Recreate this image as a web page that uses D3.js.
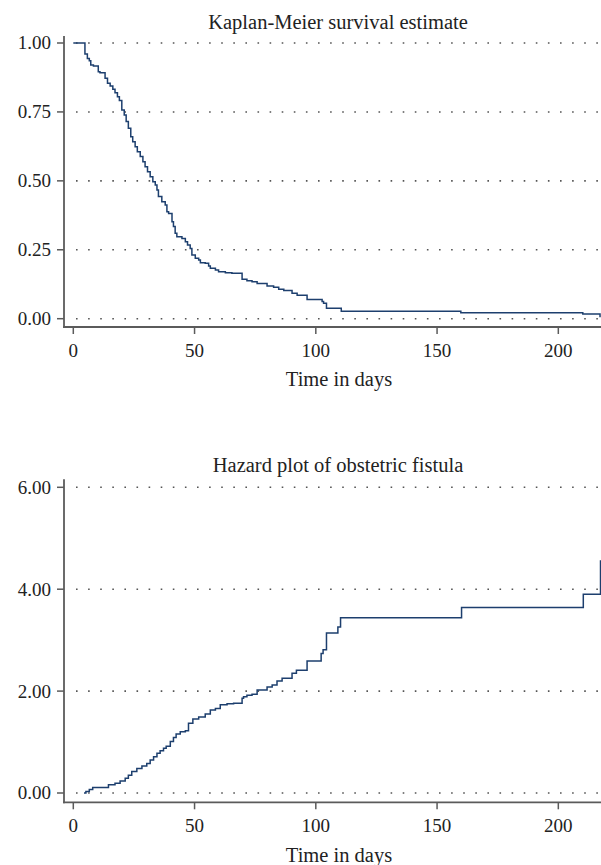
<!DOCTYPE html>
<html>
<head>
<meta charset="utf-8">
<script src="https://cdn.jsdelivr.net/npm/d3@7"></script>
<style>
  html, body { margin: 0; padding: 0; background: #fff; }
  svg { display: block; }
  text { font-family: "Liberation Serif", "DejaVu Serif", serif; fill: #222; }
</style>
</head>
<body>
<svg id="chart" width="601" height="865"></svg>
<script>
// ---------- data ----------
const kmTimes = [0, 4.8, 5.8, 6.6, 7.2, 8.3, 10.3, 11.0, 13.1, 14.1, 15.2, 16.3, 17.2, 18.2, 19.0, 20.0, 21.0, 21.8, 22.7, 23.7, 24.5, 25.5, 26.4, 27.6, 28.7, 29.6, 30.6, 31.7, 32.8, 33.8, 34.5, 35.1, 36.5, 37.9, 38.6, 39.3, 40.7, 41.3, 42.0, 42.7, 44.8, 46.2, 47.1, 48.2, 48.9, 50.3, 51.7, 52.4, 54.4, 55.8, 56.5, 58.6, 59.9, 62.7, 65.4, 69.6, 71.6, 73.7, 75.8, 79.9, 82.6, 84.7, 86.8, 90.2, 92.3, 96.4, 102.6, 103.2, 104.4, 110.5, 159.8, 210.1, 217.2];
const kmSurvival = [1.000, 0.960, 0.944, 0.936, 0.920, 0.917, 0.896, 0.892, 0.872, 0.854, 0.844, 0.832, 0.820, 0.805, 0.791, 0.757, 0.739, 0.715, 0.691, 0.660, 0.642, 0.624, 0.606, 0.588, 0.569, 0.551, 0.533, 0.515, 0.497, 0.485, 0.467, 0.443, 0.424, 0.412, 0.388, 0.382, 0.352, 0.334, 0.310, 0.297, 0.291, 0.279, 0.267, 0.255, 0.231, 0.219, 0.213, 0.203, 0.201, 0.191, 0.183, 0.177, 0.170, 0.167, 0.165, 0.143, 0.138, 0.134, 0.128, 0.119, 0.114, 0.107, 0.102, 0.092, 0.085, 0.070, 0.062, 0.056, 0.038, 0.027, 0.022, 0.017, 0.005];

const hazTimes = [4.4, 5.2, 6.6, 8.0, 14.5, 17.2, 19.3, 21.4, 22.7, 24.1, 26.2, 28.3, 30.3, 31.7, 33.1, 34.5, 35.8, 37.2, 38.3, 40.0, 41.3, 42.4, 44.1, 46.2, 47.5, 49.3, 51.7, 54.4, 56.5, 58.6, 60.6, 63.4, 66.1, 69.6, 70.2, 71.6, 73.7, 75.8, 79.9, 82.0, 84.0, 86.1, 90.2, 92.0, 96.4, 102.2, 103.0, 104.4, 109.1, 110.2, 160.1, 210.3, 217.4];
const hazValues = [0.00, 0.03, 0.07, 0.11, 0.16, 0.19, 0.235, 0.29, 0.35, 0.42, 0.48, 0.53, 0.58, 0.65, 0.71, 0.78, 0.83, 0.88, 0.92, 1.01, 1.09, 1.16, 1.20, 1.22, 1.37, 1.45, 1.49, 1.55, 1.63, 1.66, 1.73, 1.75, 1.76, 1.86, 1.89, 1.92, 1.94, 2.02, 2.08, 2.12, 2.20, 2.25, 2.35, 2.41, 2.59, 2.74, 2.81, 3.14, 3.26, 3.44, 3.64, 3.90, 4.57];

const xTicks = [0, 50, 100, 150, 200];
const kmYTicks = [0, 0.25, 0.5, 0.75, 1.0];
const hazYTicks = [0, 2, 4, 6];
const kmTitle = "Kaplan-Meier survival estimate";
const hazTitle = "Hazard plot of obstetric fistula";
const xTitle = "Time in days";

// ---------- drawing ----------
const svg = d3.select("#chart");
const lineColor = "#1d3f6e";
const axisColor = "#5b5b5b";

function panel(cfg) {
  const g = svg.append("g");
  const x = d3.scaleLinear().domain([0, 217.6]).range([73.3, 601]);
  const y = d3.scaleLinear().domain(cfg.yDomain).range(cfg.yRange);

  // dotted gridlines
  g.selectAll("line.grid").data(cfg.yTicks).enter().append("line")
    .attr("x1", 76).attr("x2", 601)
    .attr("y1", d => y(d)).attr("y2", d => y(d))
    .attr("stroke", "#555").attr("stroke-width", 1.6)
    .attr("stroke-dasharray", "1.6,10.5");

  // y axis
  g.append("line").attr("x1", 64).attr("x2", 64)
    .attr("y1", cfg.yAxisTop).attr("y2", cfg.xAxisY + 0.9)
    .attr("stroke", axisColor).attr("stroke-width", 1.8);
  g.selectAll("line.ytick").data(cfg.yTicks).enter().append("line")
    .attr("x1", 57).attr("x2", 64)
    .attr("y1", d => y(d)).attr("y2", d => y(d))
    .attr("stroke", axisColor).attr("stroke-width", 1.5);
  g.selectAll("text.ylab").data(cfg.yTicks).enter().append("text")
    .attr("x", 51).attr("y", d => y(d))
    .attr("dy", "0.34em")
    .attr("text-anchor", "end")
    .style("font-size", "19px")
    .text(d => d3.format(".2f")(d));

  // x axis
  g.append("line").attr("x1", 63.1).attr("x2", 601)
    .attr("y1", cfg.xAxisY).attr("y2", cfg.xAxisY)
    .attr("stroke", axisColor).attr("stroke-width", 1.8);
  g.selectAll("line.xtick").data(xTicks).enter().append("line")
    .attr("x1", d => x(d)).attr("x2", d => x(d))
    .attr("y1", cfg.xAxisY).attr("y2", cfg.xAxisY + 7)
    .attr("stroke", axisColor).attr("stroke-width", 1.5);
  g.selectAll("text.xlab").data(xTicks).enter().append("text")
    .attr("x", d => x(d)).attr("y", cfg.xAxisY + 29.8)
    .attr("text-anchor", "middle")
    .style("font-size", "19px")
    .text(d => d);

  // titles
  g.append("text").attr("x", 338).attr("y", cfg.titleY)
    .attr("text-anchor", "middle").style("font-size", "20.5px").text(cfg.title);
  g.append("text").attr("x", 339).attr("y", cfg.xAxisY + 59.4)
    .attr("text-anchor", "middle").style("font-size", "20.5px").text(xTitle);

  // curve
  const pts = cfg.times.map((t, i) => [t, cfg.values[i]]);
  const line = d3.line().x(d => x(d[0])).y(d => y(d[1])).curve(d3.curveStepAfter);
  g.append("path").datum(pts).attr("d", line)
    .attr("fill", "none").attr("stroke", lineColor).attr("stroke-width", 1.5);
}

panel({
  times: kmTimes, values: kmSurvival, yTicks: kmYTicks,
  yDomain: [0, 1], yRange: [318.7, 43],
  yAxisTop: 36, xAxisY: 327, titleY: 29, title: kmTitle
});

panel({
  times: hazTimes, values: hazValues, yTicks: hazYTicks,
  yDomain: [0, 6], yRange: [793, 487.3],
  yAxisTop: 479.3, xAxisY: 802.3, titleY: 471.5, title: hazTitle
});
</script>
</body>
</html>
